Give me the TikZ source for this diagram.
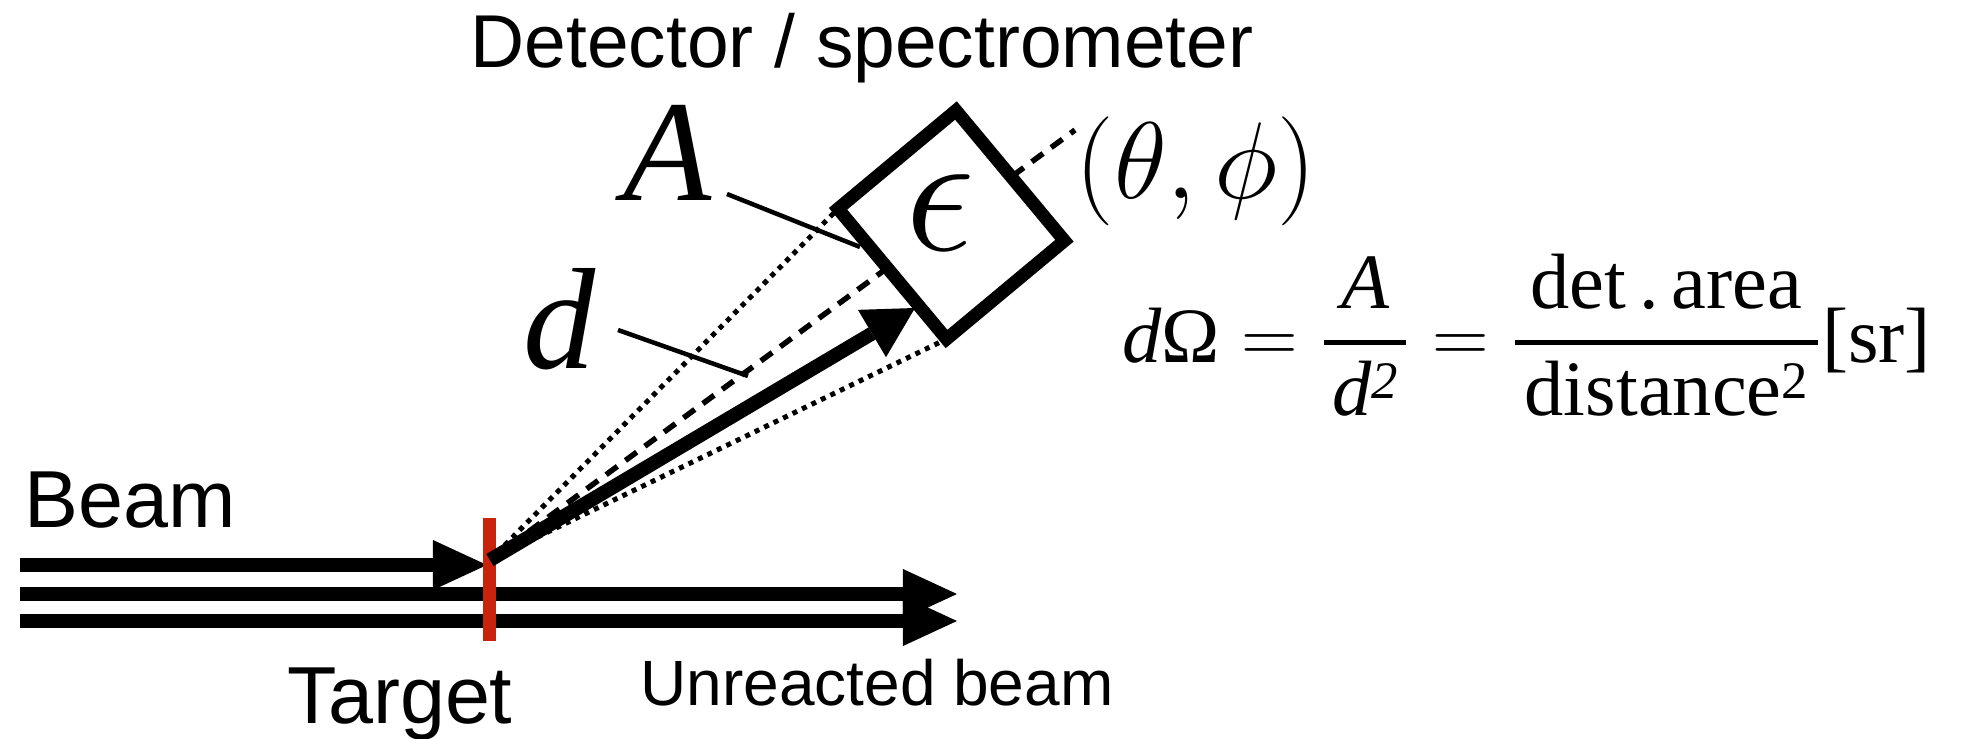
\RequirePackage{fix-cm}
\documentclass[tikz,border=0pt]{standalone}
\usepackage{fontspec}
\newfontfamily\hel{Liberation Sans}
\newfontfamily\tms{Liberation Serif}
\usetikzlibrary{arrows.meta}
\definecolor{tgtred}{RGB}{200,35,12}
\newcommand{\supii}{\raisebox{5pt}{\tms\fontsize{15}{15}\selectfont 2}}
\begin{document}
\begin{tikzpicture}[x=0.01cm,y=-0.01cm,
  beamline/.style={line width=0.14cm},
  bighead/.style={-{Triangle[length=0.54cm,width=0.5cm,line width=0pt]}},
  thickarrow/.style={line width=0.14cm,-{Triangle[length=0.5cm,width=0.55cm,line width=0pt]}},
  dotline/.style={line width=0.05cm,dash pattern=on 0.05cm off 0.055cm},
  dashline/.style={line width=0.055cm,dash pattern=on 0.14cm off 0.10cm},
  leader/.style={line width=0.045cm},
  boxline/.style={line width=0.13cm,fill=white},
  lab/.style={font=\hel\fontsize{21.3}{25}\selectfont,inner sep=0pt},
  labbig/.style={font=\hel\fontsize{23}{27}\selectfont,inner sep=0pt},
  labsmall/.style={font=\hel\fontsize{18.2}{22}\selectfont,inner sep=0pt},
  bigital/.style={font=\tms\itshape\fontsize{41}{44}\selectfont,inner sep=0pt}
]
\useasboundingbox (0,0) rectangle (1965,739);

% geometry
\coordinate (T) at (490,560);
\coordinate (b1s) at (20,565);
\coordinate (b1e) at (487,565);
\coordinate (b2s) at (20,594);
\coordinate (b2e) at (957,594);
\coordinate (b3s) at (20,621);
\coordinate (b3e) at (957,621);
\coordinate (tgtTop) at (489.5,518);
\coordinate (tgtBot) at (489.5,641);
\coordinate (Dend) at (1075,130);
\coordinate (hit) at (915,308);
\coordinate (Aleadstart) at (727,194);
\coordinate (Aleadend) at (860,247);
\coordinate (dleadstart) at (618,330);
\coordinate (dleadend) at (748,376);

\path node[minimum width=1.68cm,minimum height=1.52cm,rotate=-50.2,inner sep=0pt] (box) at (951.25,224.75) {};

% sight lines
\draw[dotline] (T) -- (box.south west);
\draw[dotline] (T) -- (box.south east);
\draw[dashline] (T) -- (Dend);

% detector
\draw[boxline] (box.north west) -- (box.north east) -- (box.south east) -- (box.south west) -- cycle;

% beam
\draw[beamline,bighead] (b2s) -- (b2e);
\draw[beamline,bighead] (b3s) -- (b3e);
\draw[beamline,bighead] (b1s) -- (b1e);
\draw[line width=0.13cm,tgtred] (tgtTop) -- (tgtBot);

% scattered particle
\draw[thickarrow] (T) -- (hit);

% leaders
\draw[leader] (Aleadstart) -- (Aleadend);
\draw[leader] (dleadstart) -- (dleadend);

% labels
\node[lab,anchor=base] (det) at (862,67) {Detector / spectrometer};
\node[labbig,anchor=base west] (beam) at (24,527) {Beam};
\node[labbig,anchor=base] (tgt) at (400,723) {Target};
\node[labsmall,anchor=base] (unr) at (877,705) {Unreacted beam};
\node[bigital,anchor=base] (Alab) at (668,200) {A};
\node[bigital,anchor=base] (dlab) at (560,368) {d};
\node[font=\fontsize{50}{54}\selectfont,inner sep=0pt] (eps) at (940,213) {$\epsilon$};
\node[font=\fontsize{31}{35}\selectfont,inner sep=0pt] (ang) at (1196,171) {$(\theta,\phi)$};
\node[font=\tms\fontsize{22.3}{26}\selectfont,inner sep=0pt,anchor=base west] (formula) at (1122,362)
  {$\displaystyle \mbox{\itshape d}\mbox{Ω} = {\mbox{\kern2.3pt\itshape A\kern2.3pt} \above 1.4pt \mbox{\kern2.3pt\itshape d\/\supii\kern2.3pt}}
   = {\mbox{\kern2.8pt det\,.\,area\kern2.8pt} \above 1.4pt \mbox{\kern2.8pt distance\supii\kern2.8pt}}\mbox{[sr]}$};
\end{tikzpicture}
\end{document}
